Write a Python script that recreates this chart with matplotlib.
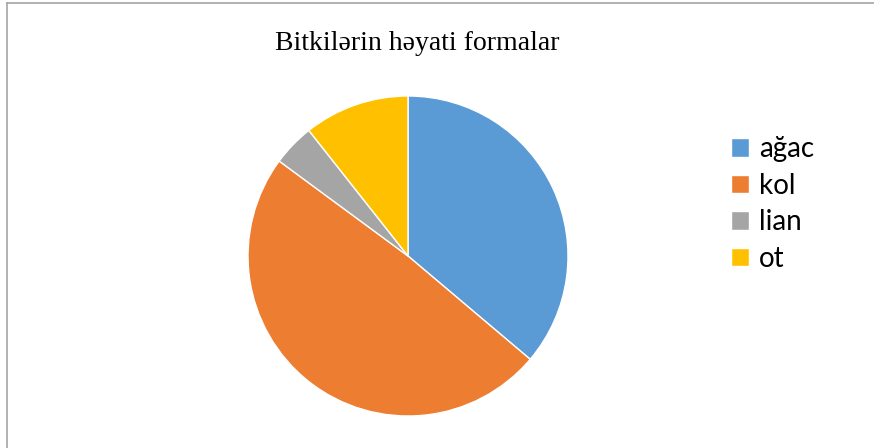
import matplotlib.pyplot as plt
from matplotlib.lines import Line2D

# Bitkilərin həyati formaları
labels = ["ağac", "kol", "lian", "ot"]
values = [34, 46, 4, 10]
colors = ["#5B9BD5", "#ED7D31", "#A5A5A5", "#FFC000"]

W, H = 874, 448
fig = plt.figure(figsize=(W / 100, H / 100), dpi=100)

# pie axes: center (408, 256), radius 160 px
cx, cy, r = 408, 256, 160
ax = fig.add_axes([(cx - r) / W, (H - cy - r) / H, 2 * r / W, 2 * r / H])
wedges, _ = ax.pie(values, colors=colors, startangle=90, counterclock=False,
                   radius=1.0, wedgeprops=dict(linewidth=1.0, edgecolor="white"))
ax.set_xlim(-1, 1)
ax.set_ylim(-1, 1)
ax.set_aspect("equal")
ax.axis("off")

fig.text(417 / W, 1 - 43 / H, "Bitkilərin həyati formalar", ha="center", va="center",
         fontsize=20, family="Liberation Serif")

leg = fig.legend(wedges, labels, loc="upper left", bbox_to_anchor=(720 / W, 1 - 125 / H),
                 frameon=False, prop=dict(family="Lato", size=20),
                 handlelength=0.65, handleheight=0.65, handletextpad=0.35,
                 labelspacing=0.38, borderaxespad=0)

# outer chart border (top and left visible)
fig.add_artist(Line2D([6.5 / W, 1], [1 - 3.5 / H, 1 - 3.5 / H], color="#A6A6A6", lw=1.2))
fig.add_artist(Line2D([6.5 / W, 6.5 / W], [0, 1 - 3.5 / H], color="#A6A6A6", lw=1.2))

fig.savefig("out.png", dpi=100)
